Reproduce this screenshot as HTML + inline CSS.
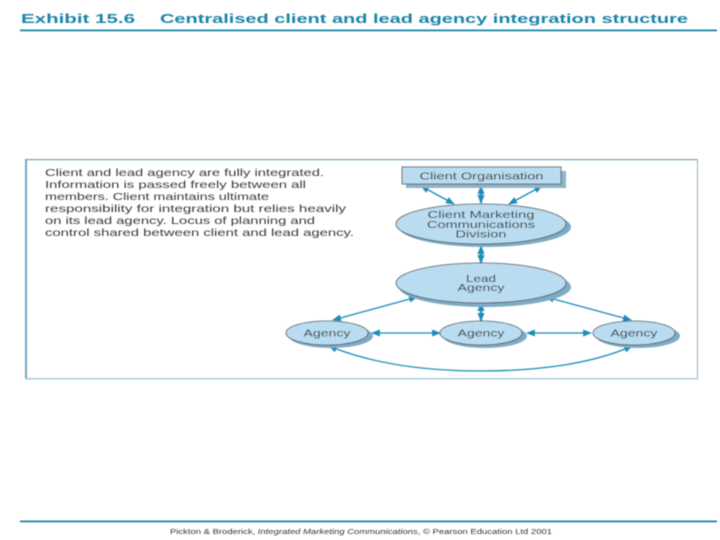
<!DOCTYPE html>
<html>
<head>
<meta charset="utf-8">
<style>
html,body{margin:0;padding:0;background:#fff;width:720px;height:540px;overflow:hidden}
svg{display:block}
text{font-family:"Liberation Sans",sans-serif}
</style>
</head>
<body>
<svg width="720" height="540" viewBox="0 0 720 540" xmlns="http://www.w3.org/2000/svg">
<defs>
<marker id="a" viewBox="0 0 10 8" refX="9" refY="4" markerWidth="10" markerHeight="7" orient="auto-start-reverse" markerUnits="userSpaceOnUse"><path d="M0 0L10 4L0 8z" fill="#1b8db8"/></marker>
<marker id="c" viewBox="0 0 10 8" refX="9" refY="4" markerWidth="9" markerHeight="8" orient="auto-start-reverse" markerUnits="userSpaceOnUse"><path d="M0 0L10 4L0 8z" fill="#1b8db8"/></marker>
<filter id="b" x="-5%" y="-5%" width="110%" height="110%"><feGaussianBlur stdDeviation="0.45"/></filter>
</defs>

<g filter="url(#b)">
<text x="21" y="23" font-size="12.5" font-weight="bold" fill="#1b84a8" textLength="114" lengthAdjust="spacingAndGlyphs">Exhibit 15.6</text>
<text x="160" y="23" font-size="12.5" font-weight="bold" fill="#1b84a8" textLength="528" lengthAdjust="spacingAndGlyphs">Centralised client and lead agency integration structure</text>
<rect x="20" y="29.500" width="697" height="1.800" fill="#1f86a8"/>

<rect x="25" y="159" width="673" height="1.200" fill="#6fa3b8"/>
<rect x="25" y="159" width="2" height="220" fill="#6fa9bf"/>
<rect x="697" y="159" width="1" height="220" fill="#8db5c5"/>
<rect x="25" y="378" width="673" height="1.500" fill="#a5cbd6"/>

<g font-size="10.3" fill="#3a3a3a">
<text x="45" y="176" textLength="279" lengthAdjust="spacingAndGlyphs">Client and lead agency are fully integrated.</text>
<text x="45" y="188" textLength="261" lengthAdjust="spacingAndGlyphs">Information is passed freely between all</text>
<text x="45" y="200" textLength="224" lengthAdjust="spacingAndGlyphs">members. Client maintains ultimate</text>
<text x="45" y="212" textLength="301" lengthAdjust="spacingAndGlyphs">responsibility for integration but relies heavily</text>
<text x="45" y="224" textLength="270" lengthAdjust="spacingAndGlyphs">on its lead agency. Locus of planning and</text>
<text x="45" y="236" textLength="309" lengthAdjust="spacingAndGlyphs">control shared between client and lead agency.</text>
</g>

<!-- connectors -->
<g stroke="#1b8db8" stroke-width="1.300" fill="none">
<line x1="421" y1="186" x2="454" y2="204" marker-start="url(#a)" marker-end="url(#a)"/>
<line x1="481" y1="186" x2="481" y2="203" stroke-width="2.200" marker-start="url(#c)" marker-end="url(#c)"/>
<line x1="542" y1="186" x2="509" y2="204" marker-start="url(#a)" marker-end="url(#a)"/>
<line x1="481" y1="246" x2="481" y2="263" stroke-width="2.200" marker-start="url(#c)" marker-end="url(#c)"/>
<line x1="481" y1="303" x2="481" y2="321" stroke-width="2.200" marker-start="url(#c)" marker-end="url(#c)"/>
<line x1="417" y1="297" x2="333" y2="320" marker-start="url(#a)" marker-end="url(#a)"/>
<line x1="546" y1="297" x2="631" y2="320" marker-start="url(#a)" marker-end="url(#a)"/>
<line x1="372" y1="333" x2="440" y2="333" marker-start="url(#a)" marker-end="url(#a)"/>
<line x1="527" y1="333" x2="591" y2="333" marker-start="url(#a)" marker-end="url(#a)"/>
<path d="M329 346C375 365 430 371 481 371C532 371 590 365 632 346" marker-start="url(#a)" marker-end="url(#a)"/>
</g>

<!-- client organisation -->
<rect x="406" y="171" width="160" height="17" fill="#8fb3c9"/>
<rect x="402" y="167" width="159" height="17" fill="#b9dcf0" stroke="#444" stroke-width="0.800"/>
<text x="481.500" y="179.500" font-size="10.300" fill="#333" text-anchor="middle" textLength="124" lengthAdjust="spacingAndGlyphs">Client Organisation</text>

<!-- ellipses -->
<ellipse cx="485" cy="227" rx="86" ry="20" fill="#7eaac5"/>
<ellipse cx="481" cy="224" rx="85" ry="20" fill="#b9dcf0" stroke="#444" stroke-width="0.800"/>
<g font-size="10.300" fill="#333" text-anchor="middle">
<text x="481" y="218" textLength="107" lengthAdjust="spacingAndGlyphs">Client Marketing</text>
<text x="481" y="228" textLength="108" lengthAdjust="spacingAndGlyphs">Communications</text>
<text x="481" y="237.500" textLength="51" lengthAdjust="spacingAndGlyphs">Division</text>
</g>

<ellipse cx="485" cy="287" rx="86" ry="20" fill="#7eaac5"/>
<ellipse cx="481" cy="283" rx="85" ry="20" fill="#b9dcf0" stroke="#444" stroke-width="0.800"/>
<g font-size="10.300" fill="#333" text-anchor="middle">
<text x="481" y="282" textLength="30" lengthAdjust="spacingAndGlyphs">Lead</text>
<text x="481" y="291" textLength="47" lengthAdjust="spacingAndGlyphs">Agency</text>
</g>

<ellipse cx="331" cy="336" rx="42" ry="12" fill="#7eaac5"/>
<ellipse cx="327" cy="333" rx="41" ry="12" fill="#b9dcf0" stroke="#444" stroke-width="0.800"/>
<text x="327" y="336.500" font-size="10.300" fill="#333" text-anchor="middle" textLength="47" lengthAdjust="spacingAndGlyphs">Agency</text>

<ellipse cx="485" cy="336" rx="42" ry="12" fill="#7eaac5"/>
<ellipse cx="481" cy="333" rx="41" ry="12" fill="#b9dcf0" stroke="#444" stroke-width="0.800"/>
<text x="481" y="336.500" font-size="10.300" fill="#333" text-anchor="middle" textLength="47" lengthAdjust="spacingAndGlyphs">Agency</text>

<ellipse cx="638" cy="336" rx="42" ry="12" fill="#7eaac5"/>
<ellipse cx="634" cy="333" rx="41" ry="12" fill="#b9dcf0" stroke="#444" stroke-width="0.800"/>
<text x="634" y="336.500" font-size="10.300" fill="#333" text-anchor="middle" textLength="47" lengthAdjust="spacingAndGlyphs">Agency</text>

<rect x="20" y="520.500" width="697" height="1.800" fill="#1f86a8"/>
<text x="170" y="534" font-size="7" fill="#333" textLength="382" lengthAdjust="spacingAndGlyphs">Pickton &amp; Broderick, <tspan font-style="italic">Integrated Marketing Communications</tspan>, © Pearson Education Ltd 2001</text>
</g>
</svg>
</body>
</html>
